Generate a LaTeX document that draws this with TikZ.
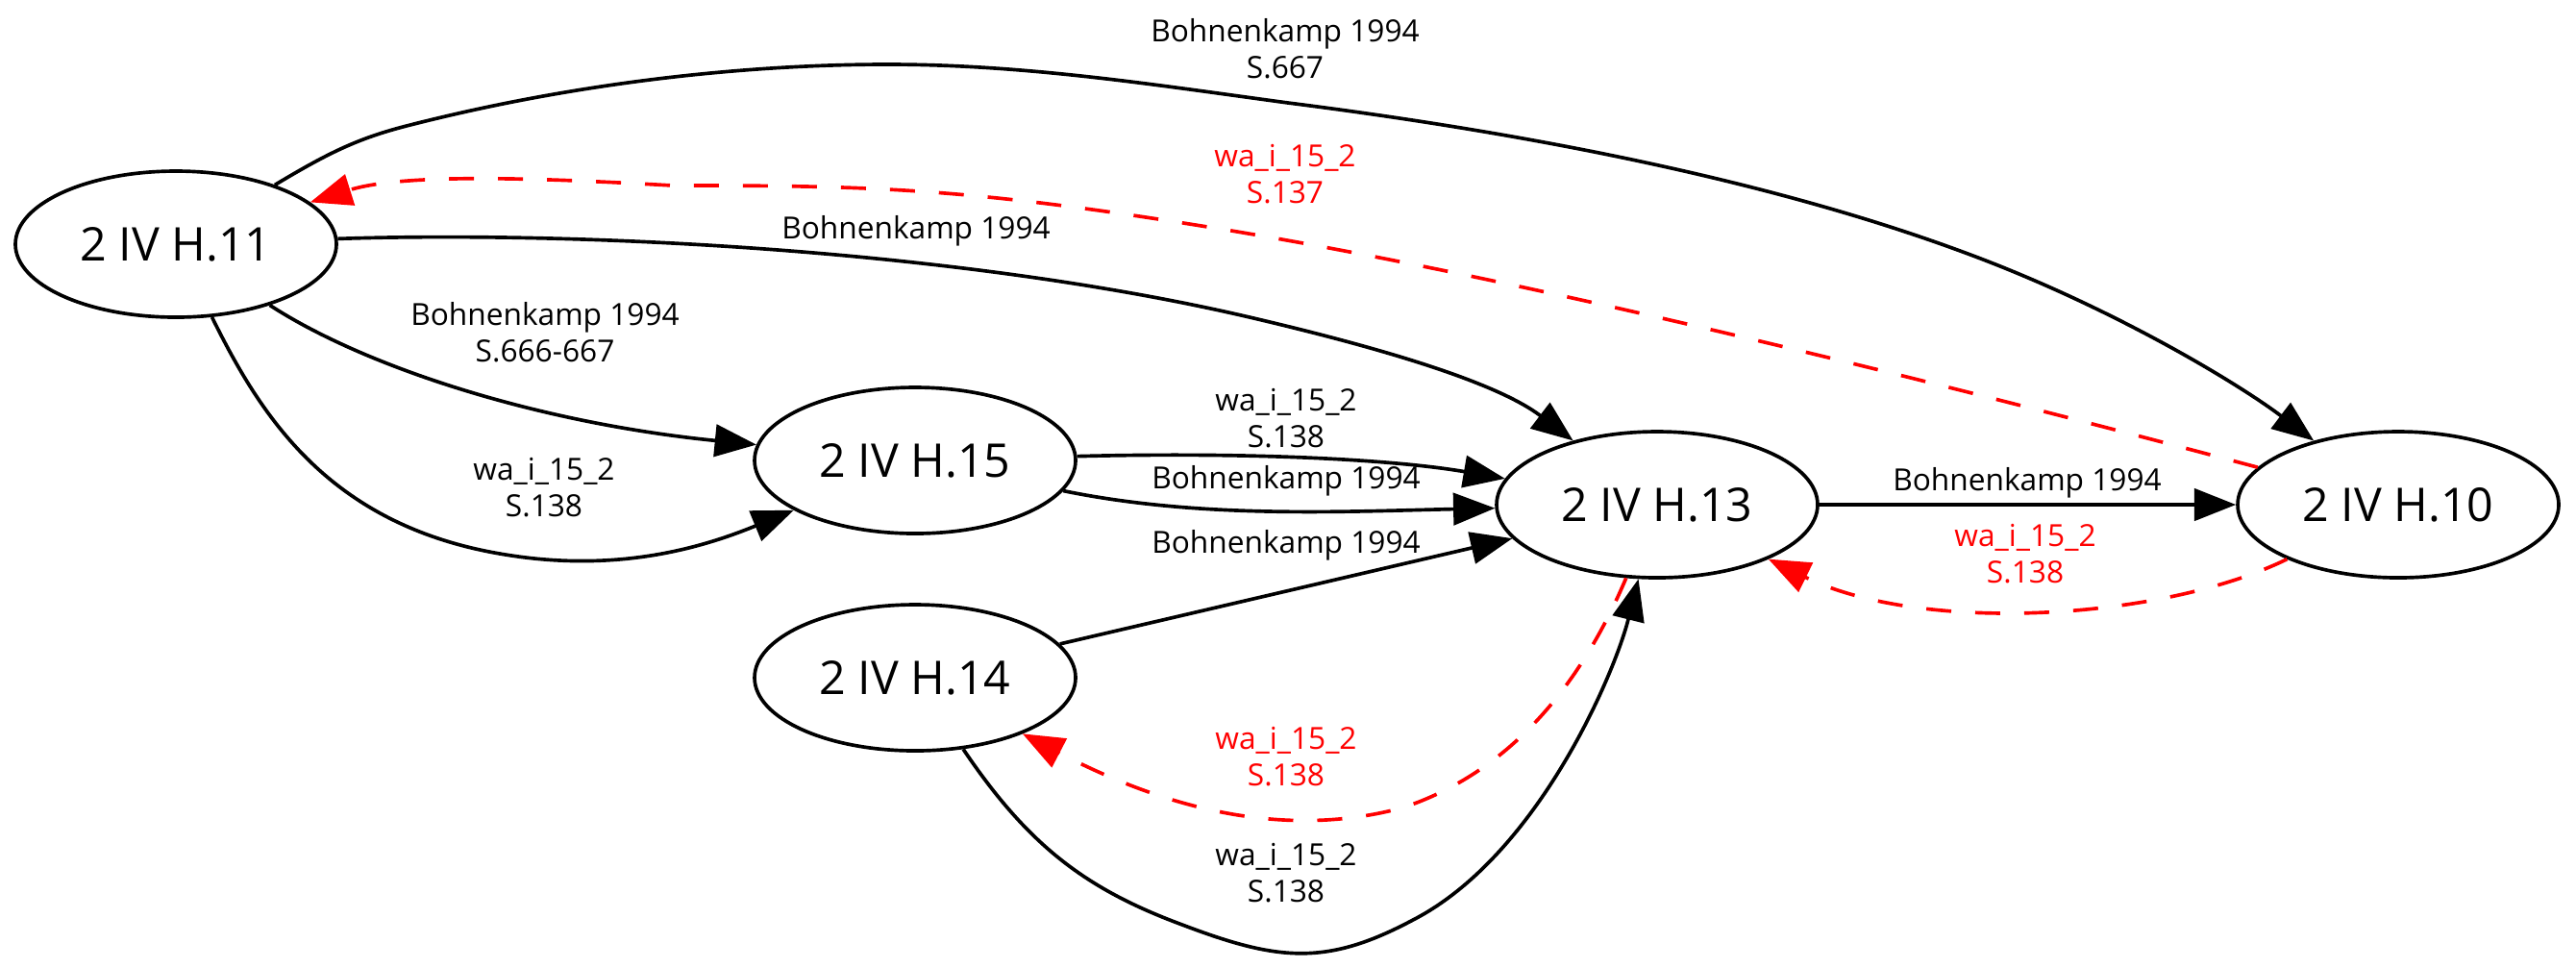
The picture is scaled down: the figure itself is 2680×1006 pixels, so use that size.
\documentclass[tikz,border=0pt]{standalone}
\usepackage{fontspec}
\setmainfont{Open Sans}
\usetikzlibrary{arrows.meta,shapes.geometric}
\definecolor{gvred}{RGB}{255,0,0}
\begin{document}
\begin{tikzpicture}[x=0.3pt,y=-0.3pt,
  gvnode/.style={ellipse,draw,line width=1.1pt,minimum width=100.2pt,minimum height=45.6pt,inner sep=0pt,font=\fontsize{14.5}{17}\selectfont},
  gvedge/.style={line width=1.1pt,-{Triangle[length=13pt,width=10pt]}},
  gvredge/.style={gvedge,draw=gvred,dash pattern=on 7.8pt off 7.5pt},
  elabel/.style={align=center,font=\fontsize{9.5}{11.4}\selectfont,inner sep=0pt},
  rlabel/.style={elabel,text=gvred}]
\fill[white] (0,0) rectangle (2680,1006);
\useasboundingbox (0,0) rectangle (2680,1006);

\node[gvnode] (h11) at (183,254) {2 IV H.11};
\node[gvnode] (h15) at (952,479) {2 IV H.15};
\node[gvnode] (h14) at (952,705) {2 IV H.14};
\node[gvnode] (h13) at (1724,525) {2 IV H.13};
\node[gvnode] (h10) at (2495,525) {2 IV H.10};

% H11 -> H10
\draw[gvedge] (h11) .. controls (340,160) and (370,145) .. (419,132)
  .. controls (600,85) and (780,67) .. (923,67)
  .. controls (1066,67) and (1200,88) .. (1340,107)
  .. controls (1600,140) and (1850,190) .. (2050,265)
  .. controls (2200,321) and (2330,400) .. (h10);
% H10 -> H11 (red)
\draw[gvredge] (h10) .. controls (2100,420) and (1600,290) .. (1250,235)
  .. controls (1000,195) and (900,193) .. (700,193)
  .. controls (560,185) and (420,180) .. (h11);
% H11 -> H13
\draw[gvedge] (h11) .. controls (600,240) and (1000,260) .. (1300,330)
  .. controls (1450,365) and (1560,400) .. (h13);
% H11 -> H15
\draw[gvedge] (h11) .. controls (380,382) and (560,440) .. (h15);
\draw[gvedge] (h11) .. controls (270,430) and (340,545) .. (520,576)
  .. controls (640,597) and (730,570) .. (h15);
% H15 -> H13
\draw[gvedge] (h15) .. controls (1300,470) and (1450,478) .. (h13);
\draw[gvedge] (h15) .. controls (1250,540) and (1400,532) .. (h13);
% H14 -> H13
\draw[gvedge] (h14) -- (h13);
\draw[gvedge] (h14) .. controls (1070,880) and (1130,925) .. (1230,962)
  .. controls (1330,1000) and (1380,1005) .. (1470,957)
  .. controls (1600,890) and (1680,700) .. (h13);
% H13 -> H14 (red)
\draw[gvredge] (h13) .. controls (1650,700) and (1580,800) .. (1460,840)
  .. controls (1350,870) and (1230,850) .. (h14);
% H13 -> H10
\draw[gvedge] (h13) -- (h10);
% H10 -> H13 (red)
\draw[gvredge] (h10) .. controls (2250,645) and (2000,660) .. (h13);

\node[elabel] (lA) at (1337,51) {Bohnenkamp 1994\\S.667};
\node[rlabel] (lB) at (1337,181) {wa\_i\_15\_2\\S.137};
\node[elabel] (lC) at (953,240) {Bohnenkamp 1994};
\node[elabel] (lD) at (567,346) {Bohnenkamp 1994\\S.666-667};
\node[elabel] (lE) at (566,507) {wa\_i\_15\_2\\S.138};
\node[elabel] (lF) at (1338,435) {wa\_i\_15\_2\\S.138};
\node[elabel] (lG) at (1338,500) {Bohnenkamp 1994};
\node[elabel] (lH) at (1338,567) {Bohnenkamp 1994};
\node[rlabel] (lJ) at (1338,787) {wa\_i\_15\_2\\S.138};
\node[elabel] (lI) at (1338,908) {wa\_i\_15\_2\\S.138};
\node[elabel] (lK) at (2109,502) {Bohnenkamp 1994};
\node[rlabel] (lL) at (2107,576) {wa\_i\_15\_2\\S.138};
\end{tikzpicture}
\end{document}
